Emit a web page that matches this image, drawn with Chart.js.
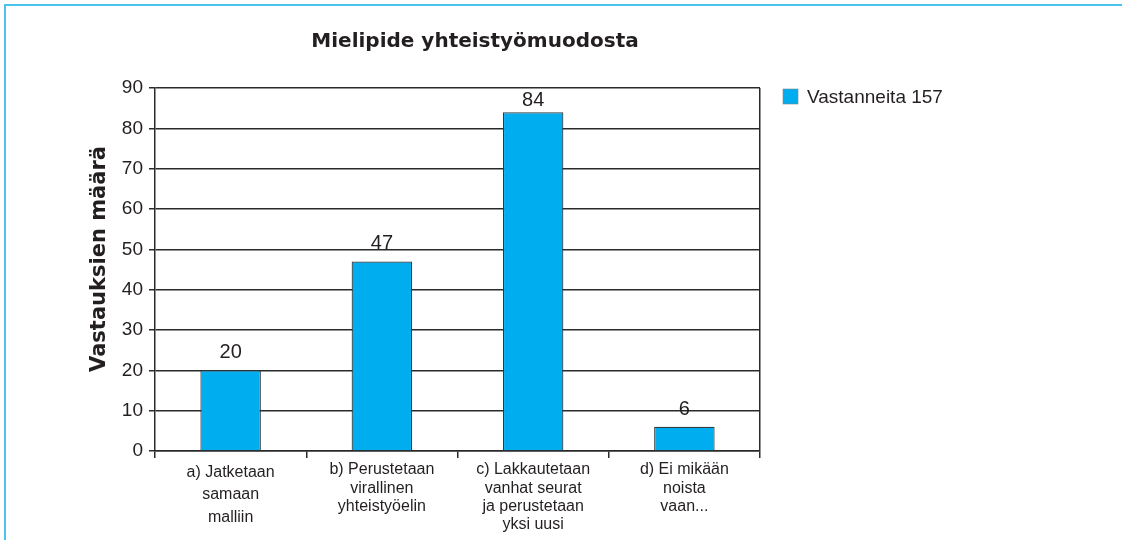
<!DOCTYPE html>
<html lang="fi">
<head>
<meta charset="utf-8">
<title>Mielipide yhteistyömuodosta</title>
<script src="https://cdn.jsdelivr.net/npm/chart.js@4.4.1/dist/chart.umd.min.js"></script>
<style>
  html, body { margin: 0; padding: 0; background: #fff; }
  #wrap { position: relative; width: 1122px; height: 540px; overflow: hidden; }
  #frame {
    position: absolute; left: 4px; top: 4px; right: -10px; bottom: -10px;
    border-top: 2px solid #4cc3ef; border-left: 2px solid #4cc3ef;
    pointer-events: none;
  }
  canvas { display: block; }
</style>
</head>
<body>
<div id="wrap">
  <canvas id="chart" width="1122" height="540"></canvas>
  <div id="frame"></div>
</div>
<script>
// Texts and values
const chartTitle = 'Mielipide yhteistyömuodosta';
const yAxisTitle = 'Vastauksien määrä';
const seriesLabel = 'Vastanneita 157';
const categories = [
    ['a) Jatketaan', 'samaan', 'malliin'],
    ['b) Perustetaan', 'virallinen', 'yhteistyöelin'],
    ['c) Lakkautetaan', 'vanhat seurat', 'ja perustetaan', 'yksi uusi'],
    ['d) Ei mikään', 'noista', 'vaan...']
];
const answers = [20, 47, 84, 6];
const yTicks = [0, 10, 20, 30, 40, 50, 60, 70, 80, 90];

const barColor = '#00aeef';
const lineColor = '#2a2a2a';
const textColor = '#231f20';
const plainFont = '"Liberation Sans", Arial, sans-serif';
const heavyFont = '"DejaVu Sans", "Liberation Sans", sans-serif';

// title, axis title, legend and value labels drawn on top of the chart
const extras = {
    id: 'extras',
    afterDraw(chart) {
        const ctx = chart.ctx;
        const meta = chart.getDatasetMeta(0);
        const area = chart.chartArea;
        ctx.save();
        ctx.fillStyle = textColor;

        // value above each bar (kept inside the plot at the top)
        ctx.font = '20px ' + plainFont;
        ctx.textAlign = 'center';
        ctx.textBaseline = 'alphabetic';
        meta.data.forEach((bar, i) => {
            const y = Math.max(bar.y - 12, area.top + 18);
            ctx.fillText(String(answers[i]), bar.x, y);
        });

        // title
        ctx.font = 'bold 20px ' + heavyFont;
        ctx.textBaseline = 'middle';
        ctx.fillText(chartTitle, 475, 42);

        // y axis title
        ctx.save();
        ctx.translate(100, 259);
        ctx.rotate(-Math.PI / 2);
        ctx.font = 'bold 21px ' + heavyFont;
        ctx.fillText(yAxisTitle, 0, 0);
        ctx.restore();

        // legend
        const ds = chart.data.datasets[0];
        const lx = area.right + 23;
        const ly = area.top + 1;
        ctx.fillStyle = ds.backgroundColor;
        ctx.fillRect(lx, ly, 15, 15);
        ctx.strokeStyle = '#7a8a90';
        ctx.lineWidth = 0.6;
        ctx.strokeRect(lx, ly, 15, 15);
        ctx.fillStyle = textColor;
        ctx.font = '19px ' + plainFont;
        ctx.textAlign = 'left';
        ctx.fillText(ds.label, lx + 24, ly + 8.5);
        ctx.restore();
    }
};

const ctx = document.getElementById('chart').getContext('2d');
new Chart(ctx, {
    type: 'bar',
    data: {
        labels: categories,
        datasets: [{
            label: seriesLabel,
            data: answers,
            backgroundColor: barColor,
            borderColor: '#2d3a40',
            borderWidth: 1.2,
            barPercentage: 0.4,
            categoryPercentage: 1
        }]
    },
    options: {
        responsive: false,
        animation: false,
        layout: { padding: { top: 88, left: 0, right: 362, bottom: 0 } },
        plugins: {
            legend: { display: false },
            title: { display: false },
            tooltip: { enabled: false }
        },
        scales: {
            x: {
                offset: true,
                grid: {
                    offset: true,
                    drawOnChartArea: true,
                    // only the right-hand frame line goes through the plot
                    color: c => c.type === 'scale' ? lineColor : 'transparent',
                    tickColor: lineColor,
                    tickLength: 7,
                    lineWidth: 1.5
                },
                border: { display: true, color: lineColor, width: 1.5 },
                ticks: {
                    color: textColor,
                    // first label is spaced out more in the original
                    font: c => ({
                        family: plainFont,
                        size: 16,
                        lineHeight: c.index === 0 ? 1.42 : 1.13
                    }),
                    padding: 3,
                    maxRotation: 0,
                    autoSkip: false
                },
                afterFit: scale => { scale.height = 89; }
            },
            y: {
                min: yTicks[0],
                max: yTicks[yTicks.length - 1],
                ticks: {
                    stepSize: yTicks[1] - yTicks[0],
                    color: textColor,
                    font: { family: plainFont, size: 19 },
                    padding: 6
                },
                grid: {
                    color: lineColor,
                    lineWidth: 1.5,
                    tickLength: 6
                },
                border: { display: true, color: lineColor, width: 1.5 },
                afterFit: scale => { scale.width = 155; }
            }
        }
    },
    plugins: [extras]
});
</script>
</body>
</html>
